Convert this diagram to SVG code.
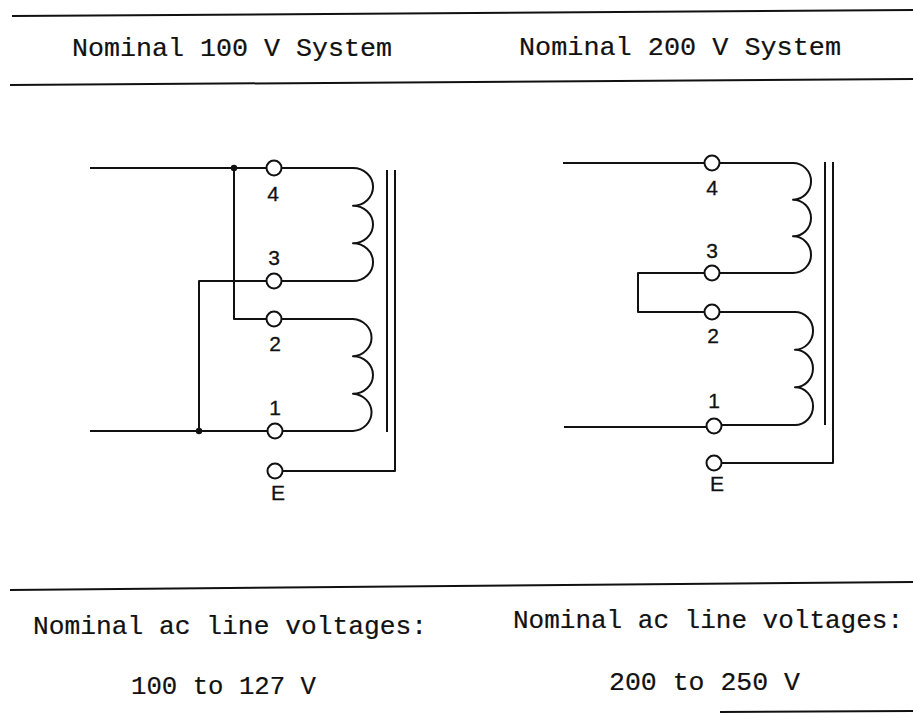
<svg xmlns="http://www.w3.org/2000/svg" width="913" height="713" viewBox="0 0 913 713">
<style>
.rule{stroke:#111;stroke-width:2;fill:none}
.w{stroke:#111;stroke-width:2;fill:none;stroke-linejoin:round}
.t{fill:#fff;stroke:#111;stroke-width:2}
.mono{font-family:"Liberation Mono","DejaVu Sans Mono",monospace;font-size:26px;fill:#111;stroke:#111;stroke-width:0.2}
.lbl{font-family:"Liberation Sans",Arial,sans-serif;font-size:21px;fill:#111;stroke:#111;stroke-width:0.3;text-anchor:middle}
</style>
<rect width="913" height="713" fill="#fff"/>
<g id="rules">
<line class="rule" x1="12" y1="16" x2="913" y2="10"/>
<line class="rule" x1="10" y1="85" x2="913" y2="79"/>
<line class="rule" x1="10" y1="590" x2="913" y2="582"/>
<line class="rule" x1="720" y1="712" x2="913" y2="711"/>
</g>
<g id="headers">
<text class="mono" x="72" y="56" textLength="320" lengthAdjust="spacingAndGlyphs">Nominal 100 V System</text>
<text class="mono" x="519" y="55" textLength="322" lengthAdjust="spacingAndGlyphs">Nominal 200 V System</text>
<text class="mono" x="33" y="634" textLength="394" lengthAdjust="spacingAndGlyphs">Nominal ac line voltages:</text>
<text class="mono" x="513" y="628" textLength="390" lengthAdjust="spacingAndGlyphs">Nominal ac line voltages:</text>
<text class="mono" x="131" y="694" textLength="185" lengthAdjust="spacingAndGlyphs">100 to 127 V</text>
<text class="mono" x="609" y="690" textLength="191" lengthAdjust="spacingAndGlyphs">200 to 250 V</text>
</g>
<g id="connectors">
<path class="w" d="M90,168 H266.5"/>
<path class="w" d="M234,168 V319 H266.5"/>
<path class="w" d="M266.5,281 H199 V431"/>
<path class="w" d="M90,431 H267.5"/>
<path class="w" d="M281.5,168 H353 A20,18.8 0 0 1 353,205.7 A20,18.8 0 0 1 353,243.3 A20,18.8 0 0 1 353,281 H281.5"/>
<path class="w" d="M281.5,319 H353 A20,18.7 0 0 1 353,356.3 A20,18.7 0 0 1 353,393.7 A20,18.7 0 0 1 353,431 H282.5"/>
<path class="w" d="M387,170 V432"/>
<path class="w" d="M395,170 V471 H282.5"/>
<circle cx="234" cy="168" r="3.2" fill="#111"/>
<circle cx="199" cy="431" r="3.2" fill="#111"/>
<path class="w" d="M563,163 H704.5"/>
<path class="w" d="M704.5,273 H638 V312 H704.5"/>
<path class="w" d="M564,427 H706.5"/>
<path class="w" d="M719.5,163 H793 A18,18.3 0 0 1 793,199.7 A18,18.3 0 0 1 793,236.3 A18,18.3 0 0 1 793,273 H719.5"/>
<path class="w" d="M719.5,312 H795 A18,18.8 0 0 1 795,349.7 A18,18.8 0 0 1 795,387.3 A18,18.8 0 0 1 795,425 H721.5"/>
<path class="w" d="M825,162 V425"/>
<path class="w" d="M833,162 V463 H721.5"/>
</g>
<g id="terminals-left">
<circle class="t" cx="274" cy="168" r="7.5"/>
<circle class="t" cx="274" cy="281" r="7.5"/>
<circle class="t" cx="274" cy="319" r="7.5"/>
<circle class="t" cx="275" cy="431" r="7.5"/>
<circle class="t" cx="275" cy="471" r="7.5"/>
<text class="lbl" x="273" y="201">4</text>
<text class="lbl" x="274" y="265">3</text>
<text class="lbl" x="275" y="351">2</text>
<text class="lbl" x="275" y="415">1</text>
<text class="lbl" x="278" y="500">E</text>
</g>
<g id="terminals-right">
<circle class="t" cx="712" cy="163" r="7.5"/>
<circle class="t" cx="712" cy="273" r="7.5"/>
<circle class="t" cx="712" cy="312" r="7.5"/>
<circle class="t" cx="714" cy="426" r="7.5"/>
<circle class="t" cx="714" cy="463" r="7.5"/>
<text class="lbl" x="712" y="195">4</text>
<text class="lbl" x="712" y="258">3</text>
<text class="lbl" x="713" y="343">2</text>
<text class="lbl" x="714" y="408">1</text>
<text class="lbl" x="717" y="491">E</text>
</g>
</svg>
